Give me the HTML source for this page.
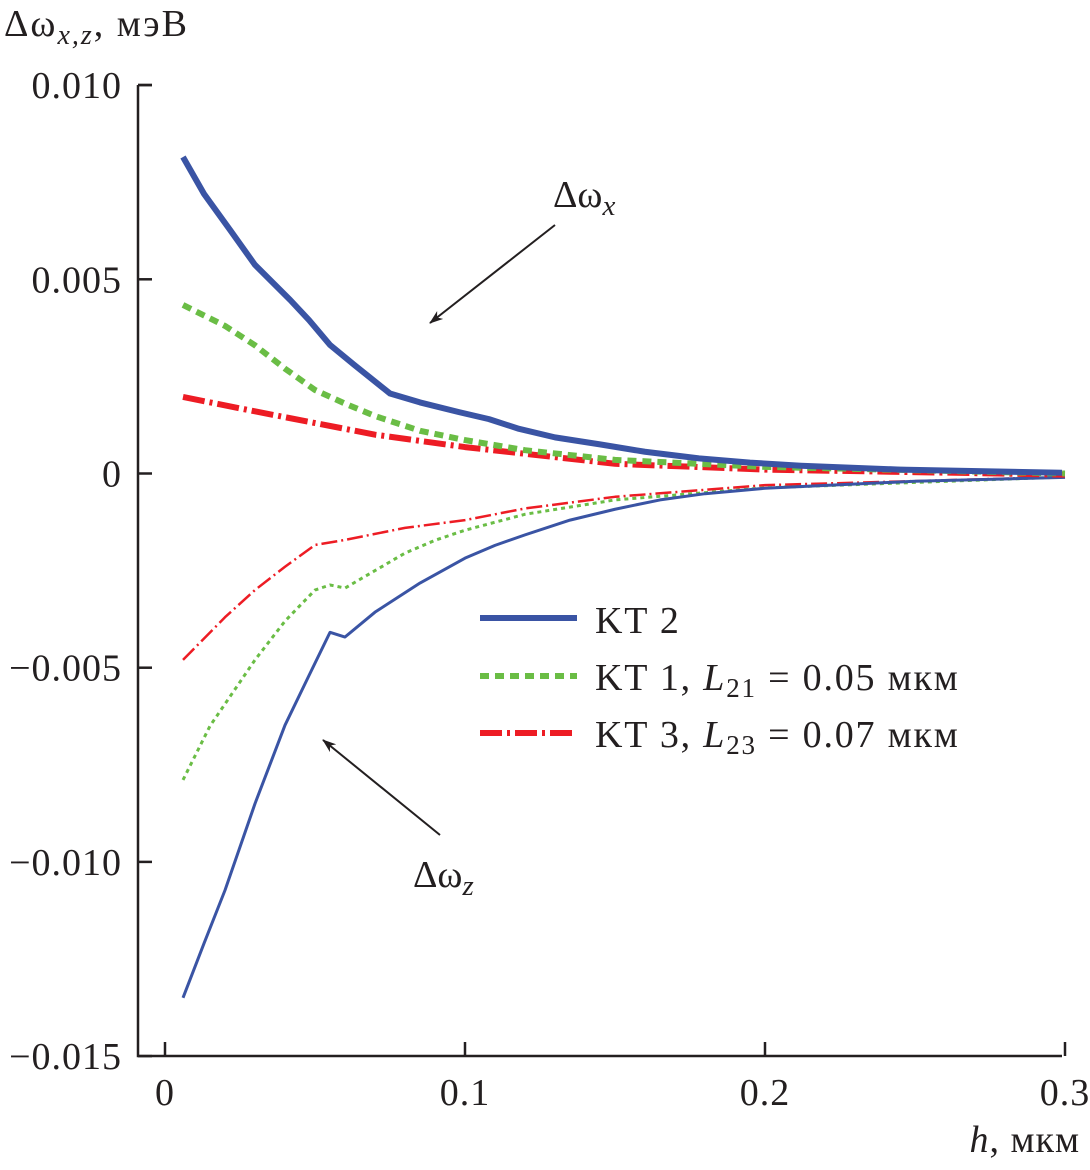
<!DOCTYPE html>
<html><head><meta charset="utf-8"><style>
body{margin:0;background:#fff}
svg text{font-family:"Liberation Serif",serif;fill:#231f20}
</style></head><body>
<svg id="chart" width="1090" height="1165" xmlns="http://www.w3.org/2000/svg">
<defs><marker id="ah" markerWidth="14" markerHeight="10" refX="13" refY="5" orient="auto" markerUnits="userSpaceOnUse"><path d="M0,0 L14,5 L0,10 L4,5 Z" fill="#231f20"/></marker></defs>
<g id="axes"></g><g id="series"></g>
<text x="4" y="36" font-size="38" letter-spacing="2">Δω<tspan font-style="italic" font-size="28" dy="8">x,z</tspan><tspan dy="-8">, мэВ</tspan></text>
<text x="1080" y="1152" font-size="38" text-anchor="end" letter-spacing="1">
<tspan font-style="italic">h</tspan>, мкм</text>
<text x="553" y="207" font-size="38">Δω<tspan font-style="italic" font-size="29" dy="8">x</tspan></text>
<line x1="555" y1="225" x2="430" y2="323" stroke="#231f20" stroke-width="2" marker-end="url(#ah)"/>
<text x="413" y="887" font-size="38">Δω<tspan font-style="italic" font-size="29" dy="8">z</tspan></text>
<line x1="440" y1="835" x2="323" y2="740" stroke="#231f20" stroke-width="2" marker-end="url(#ah)"/>
<g>
<line x1="480" y1="618" x2="577" y2="618" stroke="#3a54a4" stroke-width="6"/>
<text x="595" y="633" font-size="38" letter-spacing="1.8">KT 2</text>
<line x1="480" y1="676" x2="577" y2="676" stroke="#6abd45" stroke-width="6" stroke-dasharray="9,6"/>
<text x="595" y="690" font-size="38" letter-spacing="1.8">KT 1, <tspan font-style="italic">L</tspan><tspan font-size="27" dy="7">21</tspan><tspan dy="-7"> = 0.05 мкм</tspan></text>
<line x1="480" y1="733" x2="577" y2="733" stroke="#ed1c24" stroke-width="6" stroke-dasharray="22,5,3,5"/>
<text x="595" y="747" font-size="38" letter-spacing="1.8">KT 3, <tspan font-style="italic">L</tspan><tspan font-size="27" dy="7">23</tspan><tspan dy="-7"> = 0.07 мкм</tspan></text>
</g>
</svg>
<script>
const yTicks=[0.010,0.005,0,-0.005,-0.010,-0.015];
const yTickLabels=["0.010","0.005","0","\u22120.005","\u22120.010","\u22120.015"];
const xTicks=[0,0.1,0.2,0.3];
const xTickLabels=["0","0.1","0.2","0.3"];
const hX2=[0.006,0.013,0.0217,0.03,0.0417,0.048,0.055,0.063,0.075,0.085,0.098,0.108,0.118,0.13,0.145,0.16,0.178,0.195,0.212,0.245,0.299];
const kt2X=[0.00815,0.0072,0.00627,0.00537,0.00447,0.00395,0.00331,0.0028,0.00206,0.00183,0.00158,0.0014,0.00115,0.00093,0.00075,0.00056,0.00039,0.00028,0.0002,0.0001,0.00002];
const hG=[0.006,0.02,0.03,0.04,0.05,0.06,0.07,0.085,0.1,0.12,0.15,0.2,0.3];
const kt1X=[0.00434,0.0038,0.0033,0.0027,0.00215,0.0018,0.00148,0.0011,0.00086,0.0006,0.00035,0.00017,0.0];
const hR=[0.006,0.03,0.05,0.07,0.1,0.15,0.2,0.3];
const kt3X=[0.00197,0.0016,0.0013,0.001,0.00068,0.00025,0.0001,-0.00003];
const hZ2=[0.006,0.013,0.02,0.03,0.04,0.048,0.055,0.06,0.07,0.085,0.1,0.11,0.12,0.135,0.15,0.165,0.18,0.2,0.25,0.3];
const kt2Z=[-0.0135,-0.0121,-0.01073,-0.0085,-0.00648,-0.0052,-0.00409,-0.00421,-0.00357,-0.00282,-0.00218,-0.00185,-0.00158,-0.0012,-0.00092,-0.00068,-0.00052,-0.00038,-0.0002,-0.0001];
const hZ1=[0.006,0.015,0.03,0.04,0.05,0.055,0.06,0.07,0.08,0.09,0.1,0.12,0.15,0.2,0.3];
const kt1Z=[-0.00789,-0.0065,-0.0048,-0.0038,-0.003,-0.00287,-0.00295,-0.0025,-0.00205,-0.00172,-0.00146,-0.00105,-0.00068,-0.00037,-0.00009];
const hZ3=[0.006,0.02,0.03,0.04,0.05,0.06,0.08,0.1,0.12,0.15,0.2,0.3];
const kt3Z=[-0.0048,-0.0037,-0.003,-0.0024,-0.00184,-0.00171,-0.0014,-0.0012,-0.0009,-0.0006,-0.0003,-0.00009];

const NS="http://www.w3.org/2000/svg";
const X=v=>165+v*3000;
const Y=v=>473.5-v*38840;
function mk(tag,attrs,parent){const e=document.createElementNS(NS,tag);for(const k in attrs)e.setAttribute(k,attrs[k]);parent.appendChild(e);return e;}
const ax=document.getElementById('axes');
let a=mk('path',{d:'M138,85 H152 M138,85 V1056 H1062',fill:'none',stroke:'#231f20','stroke-width':2.5},ax);


yTicks.forEach((t,i)=>{
 const l=mk('line',{x1:138,x2:152,y1:Y(t),y2:Y(t),stroke:'#231f20','stroke-width':2.5},ax);
 
 
 const tx=mk('text',{x:122,y:Y(t)+13,'font-size':38,'text-anchor':'end','letter-spacing':1},ax);
 tx.textContent=yTickLabels[i];
 
 
});
xTicks.forEach((t,i)=>{
 const l=mk('line',{x1:X(t),x2:X(t),y1:1056,y2:1042,stroke:'#231f20','stroke-width':2.5},ax);
 
 
 const tx=mk('text',{x:X(t),y:1105,'font-size':38,'text-anchor':'middle','letter-spacing':1},ax);
 tx.textContent=xTickLabels[i];
 
 
});
const sg=document.getElementById('series');
function line(xs,ys,name,stroke,w,dash){
 const p=mk('polyline',{points:xs.map((h,i)=>X(h)+','+Y(ys[i])).join(' '),fill:'none',stroke:stroke,'stroke-width':w,'stroke-dasharray':dash||'none','stroke-linejoin':'round'},sg);
 
 
}
line(hZ3,kt3Z,'kt3-dwz-line','#ed1c24',2.5,'16,4,2,4');
line(hZ1,kt1Z,'kt1-dwz-line','#6abd45',3,'4,4');
line(hZ2,kt2Z,'kt2-dwz-line','#3a54a4',3);
line(hR,kt3X,'kt3-dwx-line','#ed1c24',6,'22,5,3,5');
line(hG,kt1X,'kt1-dwx-line','#6abd45',6,'9,6');
line(hX2,kt2X,'kt2-dwx-line','#3a54a4',6);
</script>
</body></html>
